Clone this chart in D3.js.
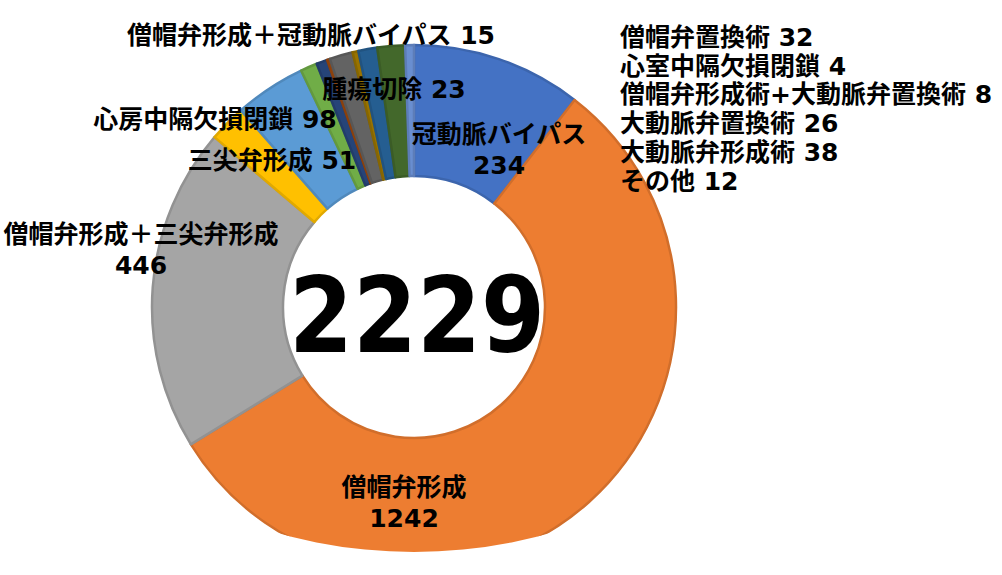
<html>
<head>
<meta charset="utf-8">
<style>
  body { margin: 0; background: #fff; }
  text { font-family: "DejaVu Sans", "Noto Sans CJK JP", sans-serif; font-weight: bold; fill: #000; }
  tspan.jp { font-family: "Noto Sans CJK JP", sans-serif; }
</style>
</head>
<body>

<svg id="svg" width="1002" height="575"></svg>
<script src="https://d3js.org/d3.v7.min.js"></script>
<script>

// slices, clockwise from 12 o'clock
var cats = ["冠動脈バイパス", "僧帽弁形成", "僧帽弁形成＋三尖弁形成", "三尖弁形成", "心房中隔欠損閉鎖",
            "腫瘍切除", "僧帽弁形成＋冠動脈バイパス", "心室中隔欠損閉鎖", "僧帽弁置換術",
            "僧帽弁形成術+大動脈弁置換術", "大動脈弁置換術", "大動脈弁形成術", "その他"];
var vals = [234, 1242, 446, 51, 98, 23, 15, 4, 32, 8, 26, 38, 12];
var cols = ["#4472c4", "#ed7d31", "#a5a5a5", "#ffc000", "#5b9bd5", "#70ad47", "#264478",
            "#9e480e", "#636363", "#997300", "#255e91", "#43682b", "#698ed0"];
var total = "2229";

// labels inside / around the ring (two-line ones put the value under the name)
var twoLine = ["冠動脈バイパス", "僧帽弁形成", "僧帽弁形成＋三尖弁形成"];
// small slices listed at the right, in this order
var sideList = ["僧帽弁置換術", "心室中隔欠損閉鎖", "僧帽弁形成術+大動脈弁置換術",
                "大動脈弁置換術", "大動脈弁形成術", "その他"];

// where each moved label sits (center x, center y of first line)
var labelAt = {
  "冠動脈バイパス":           [499, 135],
  "僧帽弁形成":               [404, 488],
  "僧帽弁形成＋三尖弁形成":   [141, 235],
  "三尖弁形成":               [272, 161],
  "心房中隔欠損閉鎖":         [215, 120],
  "腫瘍切除":                 [394, 90],
  "僧帽弁形成＋冠動脈バイパス": [311, 36]
};

var cx = 414, cy = 307, R = 262, r0 = 131;
var fs = 25, lh = 31;

// japanese runs in Noto, ascii ("+", value) in the wide latin face
function nameVal(t, name, v) {
  if (name) {
    var runs = [];
    for (var ch of name) {
      var k = /[\x20-\x7e]/.test(ch) ? "lat" : "jp";
      if (runs.length && runs[runs.length-1].k == k) runs[runs.length-1].s += ch;
      else runs.push({ k: k, s: ch });
    }
    runs.forEach(r => {
      var ts = t.append("tspan").text(r.s);
      if (r.k == "jp") ts.classed("jp", true);
    });
  }
  if (v != null) t.append("tspan").text((name ? " " : "") + v);
  return t;
}

function draw() {
  var svg = d3.select("#svg");
  var data = cats.map((c, i) => ({ cat: c, v: vals[i], col: cols[i] }));

  var pie = d3.pie().value(d => d.v).sort(null);
  var arc = d3.arc().innerRadius(r0).outerRadius(R);

  // bottom of the plot is flattened a bit in the original
  svg.append("clipPath").attr("id", "cut")
    .append("circle").attr("cx", cx).attr("cy", cy - 255).attr("r", 500);

  var g = svg.append("g")
    .attr("clip-path", "url(#cut)")
    .append("g")
    .attr("transform", "translate(" + cx + "," + cy + ")");

  g.selectAll("path.sl").data(pie(data))
    .join("path").classed("sl", true)
    .attr("d", arc)
    .style("fill", d => d.data.col)
    .style("stroke", d => d3.color(d.data.col).darker(0.35))
    .style("stroke-width", 2.5)
    .style("stroke-linejoin", "round");

  // labels placed by hand next to their slices
  var lab = svg.append("g").style("font-size", fs + "px");
  data.filter(d => labelAt[d.cat]).forEach(d => {
    var [x, y] = labelAt[d.cat];
    if (twoLine.includes(d.cat)) {
      nameVal(lab.append("text").attr("x", x).attr("y", y + 8).attr("text-anchor", "middle"), d.cat, null);
      nameVal(lab.append("text").attr("x", x).attr("y", y + lh + 8).attr("text-anchor", "middle"), null, d.v);
    } else {
      nameVal(lab.append("text").attr("x", x).attr("y", y + 8).attr("text-anchor", "middle"), d.cat, d.v);
    }
  });

  // stacked list for the thin slices
  sideList.map(c => data.find(d => d.cat == c)).forEach((d, i) => {
    nameVal(lab.append("text").attr("x", 620).attr("y", 38 + 28.7 * i + 8), d.cat, d.v);
  });

  // total in the hole
  svg.append("text")
    .attr("x", cx + 3).attr("y", 352)
    .attr("text-anchor", "middle")
    .attr("textLength", 256).attr("lengthAdjust", "spacingAndGlyphs")
    .style("font-size", "106px")
    .text(total);
}

draw();

</script>
</body>
</html>
